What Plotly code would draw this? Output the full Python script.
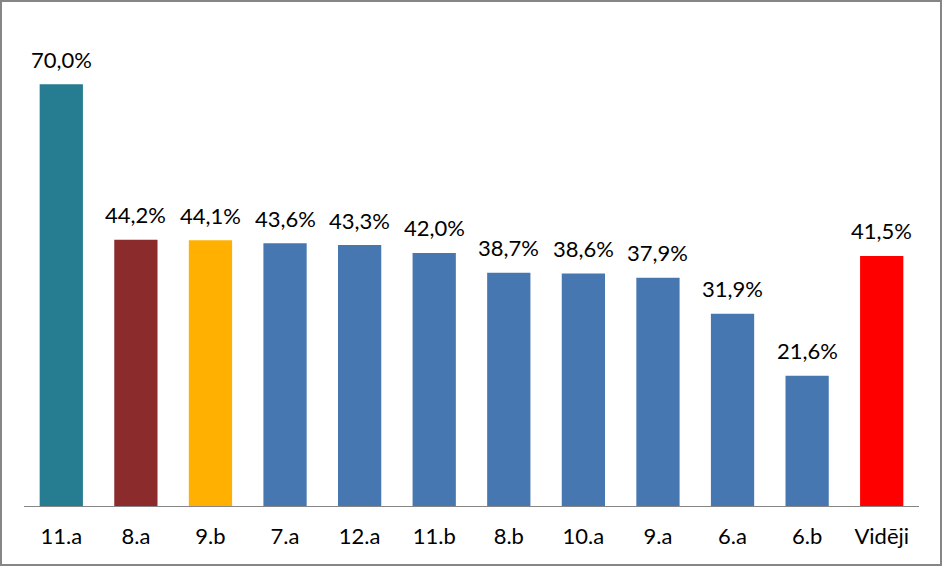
import plotly.graph_objects as go

categories = ["11.a", "8.a", "9.b", "7.a", "12.a", "11.b", "8.b", "10.a", "9.a", "6.a", "6.b", "Vidēji"]
values = [70.0, 44.2, 44.1, 43.6, 43.3, 42.0, 38.7, 38.6, 37.9, 31.9, 21.6, 41.5]
bar_colors = ["#267C90", "#8B2B2B", "#FFB000", "#4677B0", "#4677B0", "#4677B0", "#4677B0",
              "#4677B0", "#4677B0", "#4677B0", "#4677B0", "#FF0000"]
labels = [f"{v:.1f}%".replace(".", ",") for v in values]

FONT = "Lato, Calibri, 'Open Sans', sans-serif"

fig = go.Figure()
fig.add_trace(go.Bar(x=categories, y=values, marker=dict(color=bar_colors, line=dict(width=0)),
                     hoverinfo="skip"))

for c, v, t in zip(categories, values, labels):
    fig.add_annotation(x=c, y=v, text=t, showarrow=False, yanchor="middle", yshift=25,
                       font=dict(family=FONT, size=22, color="#000000"))

W, H = 943, 567
ml, mr, mt, mb = 24, 24, 24, 61
pw, ph = W - ml - mr, H - mt - mb
bx0, bx1, by0, by1 = 1, W - 2, 1, H - 2   # border pixel positions
fig.add_shape(type="rect", xref="paper", yref="paper",
              x0=(bx0 - ml) / pw, x1=(bx1 - ml) / pw,
              y0=(mt + ph - by1) / ph, y1=(mt + ph - by0) / ph,
              line=dict(color="#868686", width=2), fillcolor="rgba(0,0,0,0)", layer="above")

fig.update_layout(
    width=W, height=H,
    margin=dict(l=ml, r=mr, t=mt, b=mb),
    paper_bgcolor="white", plot_bgcolor="white",
    bargap=0.42, showlegend=False,
    font=dict(family=FONT, size=22, color="#000000"),
    xaxis=dict(showline=True, linecolor="#868686", linewidth=1, ticks="", showgrid=False,
               tickfont=dict(family=FONT, size=22, color="#000000"), ticklabelstandoff=11),
    yaxis=dict(range=[0, 80], visible=False, showgrid=False, zeroline=False),
)

fig.write_html("out.html", config={"displayModeBar": False},
               post_script="document.body.style.margin='0';document.body.style.overflow='hidden';")
